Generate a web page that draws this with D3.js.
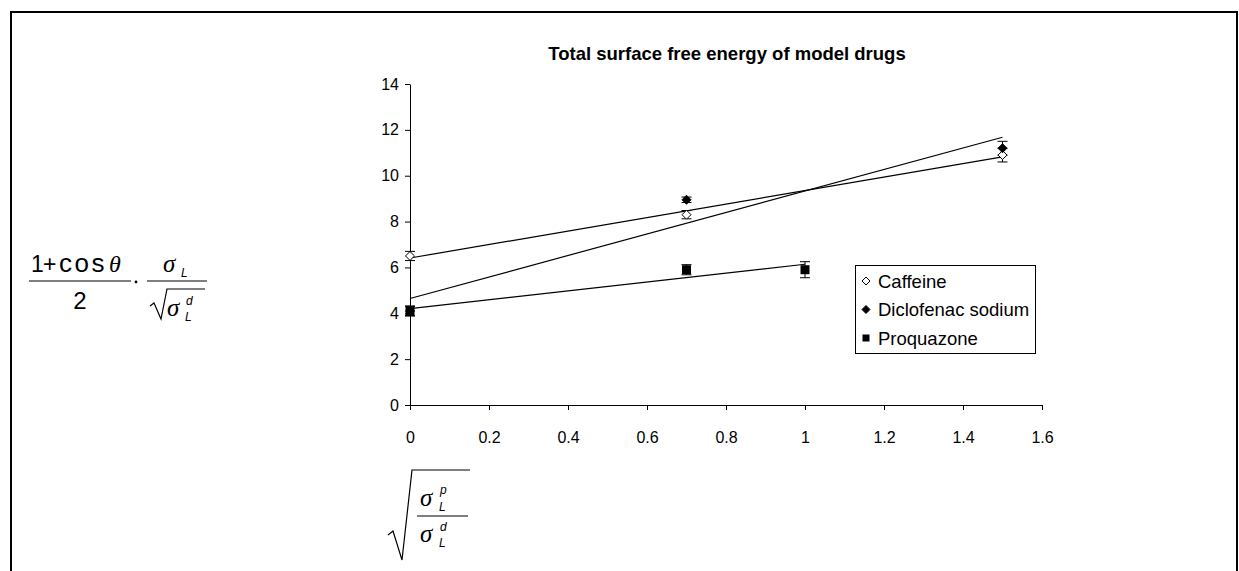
<!DOCTYPE html>
<html>
<head>
<meta charset="utf-8">
<script src="https://cdn.jsdelivr.net/npm/d3@7"></script>
<style>
  html, body { margin: 0; padding: 0; background: #fff; }
  svg { display: block; }
  text { font-family: "Liberation Sans", Arial, sans-serif; fill: #000; }
</style>
</head>
<body>
<svg id="chart" width="1239" height="571"></svg>
<script>
// ---- data ----
const title = "Total surface free energy of model drugs";
const seriesNames = ["Caffeine", "Diclofenac sodium", "Proquazone"];
const caffeineX = [0, 0.7, 1.5];
const caffeineY = [6.5, 8.3, 10.9];
const caffeineErr = [0.2, 0.18, 0.3];
const diclofenacX = [0, 0.7, 1.5];
const diclofenacY = [4.1, 8.95, 11.2];
const diclofenacErr = [0.2, 0.12, 0.3];
const proquazoneX = [0, 0.7, 1.0];
const proquazoneY = [4.1, 5.9, 5.9];
const proquazoneErr = [0.22, 0.22, 0.35];
const xTicks = [0, 0.2, 0.4, 0.6, 0.8, 1, 1.2, 1.4, 1.6];
const yTicks = [0, 2, 4, 6, 8, 10, 12, 14];

const series = [
  { name: seriesNames[0], xs: caffeineX, ys: caffeineY, err: caffeineErr, symbol: "diamondOpen" },
  { name: seriesNames[1], xs: diclofenacX, ys: diclofenacY, err: diclofenacErr, symbol: "diamond" },
  { name: seriesNames[2], xs: proquazoneX, ys: proquazoneY, err: proquazoneErr, symbol: "square" }
];

const svg = d3.select("#chart");

// outer frame
svg.append("path").attr("d", "M11,571 L11,12 L1237,12 L1237,571")
  .attr("fill", "none").attr("stroke", "#000").attr("stroke-width", 2);

const x = d3.scaleLinear().domain([0, 1.6]).range([410, 1042]);
const y = d3.scaleLinear().domain([0, 14]).range([405, 84]);

// axes
const xAxis = d3.axisBottom(x).tickValues(xTicks).tickSize(5).tickSizeOuter(0)
  .tickFormat(d => d3.format("")(+d.toFixed(1)));
const yAxis = d3.axisLeft(y).tickValues(yTicks).tickSize(5).tickSizeOuter(0);

const gx = svg.append("g").attr("transform", `translate(0,${y(0)})`).call(xAxis);
const gy = svg.append("g").attr("transform", `translate(${x(0)},0)`).call(yAxis);
[gx, gy].forEach(g => {
  g.select(".domain").attr("stroke", "#000").attr("stroke-width", 1);
  g.selectAll(".tick line").attr("stroke", "#000");
  g.selectAll(".tick text").style("font-family", "Liberation Sans, Arial, sans-serif")
    .style("font-size", "16px").attr("fill", "#000");
});
gx.selectAll(".tick text").attr("y", 27);
gy.selectAll(".tick text").attr("x", -11);

// trend lines (least squares)
function fit(xs, ys) {
  const n = xs.length, mx = d3.mean(xs), my = d3.mean(ys);
  let sxy = 0, sxx = 0;
  for (let i = 0; i < n; i++) { sxy += (xs[i] - mx) * (ys[i] - my); sxx += (xs[i] - mx) ** 2; }
  const b = sxy / sxx; return { a: my - b * mx, b };
}
series.forEach(s => {
  const f = fit(s.xs, s.ys);
  const x0 = d3.min(s.xs), x1 = d3.max(s.xs);
  svg.append("line")
    .attr("x1", x(x0)).attr("y1", y(f.a + f.b * x0))
    .attr("x2", x(x1)).attr("y2", y(f.a + f.b * x1))
    .attr("stroke", "#000").attr("stroke-width", 1.2);
});

// error bars + markers
function drawSymbol(g, type, cx, cy, r) {
  if (type === "square") {
    g.append("rect").attr("x", cx - r).attr("y", cy - r).attr("width", 2 * r).attr("height", 2 * r).attr("fill", "#000");
  } else {
    const p = `M${cx},${cy - r} L${cx + r},${cy} L${cx},${cy + r} L${cx - r},${cy} Z`;
    g.append("path").attr("d", p)
      .attr("fill", type === "diamond" ? "#000" : "#fff")
      .attr("stroke", "#000").attr("stroke-width", 1);
  }
}
const gm = svg.append("g");
series.forEach(s => {
  s.xs.forEach((xv, i) => {
    const cx = x(xv), yt = y(s.ys[i] + s.err[i]), yb = y(s.ys[i] - s.err[i]);
    gm.append("line").attr("x1", cx).attr("x2", cx).attr("y1", yt).attr("y2", yb).attr("stroke", "#000");
    gm.append("line").attr("x1", cx - 5).attr("x2", cx + 5).attr("y1", yt).attr("y2", yt).attr("stroke", "#000");
    gm.append("line").attr("x1", cx - 5).attr("x2", cx + 5).attr("y1", yb).attr("y2", yb).attr("stroke", "#000");
  });
});
series.forEach(s => {
  s.xs.forEach((xv, i) => {
    drawSymbol(gm, s.symbol, x(xv), y(s.ys[i]), 4.5);
  });
});

// title
svg.append("text").attr("x", 727).attr("y", 60).attr("text-anchor", "middle")
  .style("font-size", "18.5px").style("font-weight", "bold").text(title);

// legend
const lg = svg.append("g");
lg.append("rect").attr("x", 855.5).attr("y", 265.5).attr("width", 180).attr("height", 88)
  .attr("fill", "#fff").attr("stroke", "#000");
series.forEach((s, i) => {
  const ly = 281 + i * 28.5;
  drawSymbol(lg, s.symbol, 866, ly, s.symbol === "square" ? 3.5 : 4);
  lg.append("text").attr("x", 878).attr("y", ly + 6.5).style("font-size", "18.5px").text(s.name);
});

// y-axis label formula
const yl = svg.append("g");
yl.append("text").attr("x", 31).attr("y", 272).style("font-size", "23px").text("1");
yl.append("text").attr("x", 43).attr("y", 272).style("font-size", "23px").text("+");
yl.append("text").attr("x", 59).attr("y", 272).style("font-size", "26px")
  .style("letter-spacing", "2.5px").text("cos");
yl.append("text").attr("x", 109).attr("y", 272).style("font-size", "24px")
  .style("font-family", "Liberation Serif, serif").style("font-style", "italic").text("θ");
yl.append("line").attr("x1", 29).attr("x2", 131).attr("y1", 281).attr("y2", 281).attr("stroke", "#000").attr("stroke-width", 1.2);
yl.append("text").attr("x", 80).attr("y", 309).attr("text-anchor", "middle").style("font-size", "24px").text("2");
yl.append("circle").attr("cx", 136).attr("cy", 282).attr("r", 1.4).attr("fill", "#000");
yl.append("line").attr("x1", 147).attr("x2", 207).attr("y1", 281).attr("y2", 281).attr("stroke", "#000").attr("stroke-width", 1.2);
yl.append("text").attr("x", 163).attr("y", 272).style("font-size", "25px")
  .style("font-family", "Liberation Serif, serif").style("font-style", "italic").text("σ");
yl.append("text").attr("x", 181).attr("y", 277).style("font-size", "12px").style("font-style", "italic").text("L");
yl.append("path").attr("d", "M150,306 L154,303 L161,319 L167,289 L205,289")
  .attr("fill", "none").attr("stroke", "#000").attr("stroke-width", 1.2);
yl.append("text").attr("x", 167).attr("y", 316).style("font-size", "25px")
  .style("font-family", "Liberation Serif, serif").style("font-style", "italic").text("σ");
yl.append("text").attr("x", 186).attr("y", 305).style("font-size", "12px").style("font-style", "italic").text("d");
yl.append("text").attr("x", 185).attr("y", 321).style("font-size", "12px").style("font-style", "italic").text("L");

// x-axis label formula
const xl = svg.append("g");
xl.append("path").attr("d", "M388,535 L393,531 L402,560 L412,470 L470,470")
  .attr("fill", "none").attr("stroke", "#000").attr("stroke-width", 1.2);
xl.append("line").attr("x1", 417).attr("x2", 468).attr("y1", 516).attr("y2", 516).attr("stroke", "#000").attr("stroke-width", 1.2);
xl.append("text").attr("x", 420).attr("y", 506).style("font-size", "25px")
  .style("font-family", "Liberation Serif, serif").style("font-style", "italic").text("σ");
xl.append("text").attr("x", 440).attr("y", 494).style("font-size", "12px").style("font-style", "italic").text("p");
xl.append("text").attr("x", 439).attr("y", 511).style("font-size", "12px").style("font-style", "italic").text("L");
xl.append("text").attr("x", 420).attr("y", 542).style("font-size", "25px")
  .style("font-family", "Liberation Serif, serif").style("font-style", "italic").text("σ");
xl.append("text").attr("x", 440).attr("y", 531).style("font-size", "12px").style("font-style", "italic").text("d");
xl.append("text").attr("x", 439).attr("y", 547).style("font-size", "12px").style("font-style", "italic").text("L");
</script>
</body>
</html>
